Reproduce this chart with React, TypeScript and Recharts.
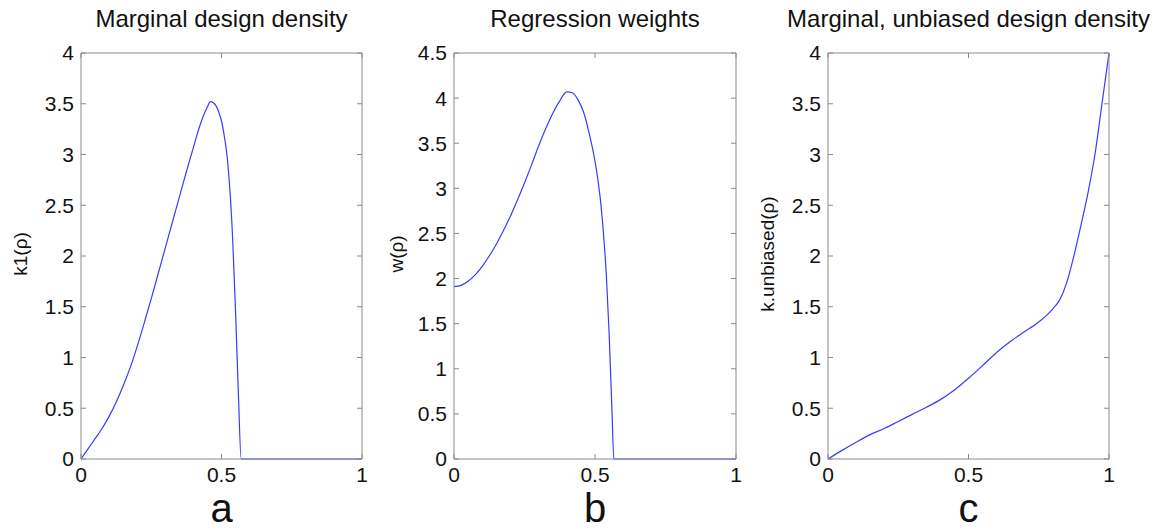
import { LineChart, Line, XAxis, YAxis } from "recharts";

// panel a: marginal design density
const rhoA = [0, 0.025, 0.05, 0.075, 0.1, 0.125, 0.15, 0.175, 0.2, 0.225, 0.25, 0.275, 0.3, 0.325, 0.35, 0.375, 0.4, 0.425, 0.45, 0.46, 0.475, 0.49, 0.5, 0.51, 0.52, 0.53, 0.54, 0.55, 0.56, 0.57, 1];
const k1Values = [0, 0.1, 0.2, 0.3, 0.42, 0.56, 0.72, 0.9, 1.11, 1.34, 1.58, 1.83, 2.08, 2.33, 2.58, 2.83, 3.07, 3.3, 3.47, 3.52, 3.5, 3.42, 3.33, 3.18, 2.98, 2.65, 2.15, 1.45, 0.65, 0, 0];

// panel b: regression weights
const rhoB = [0, 0.025, 0.05, 0.075, 0.1, 0.125, 0.15, 0.175, 0.2, 0.225, 0.25, 0.275, 0.3, 0.325, 0.35, 0.375, 0.4, 0.42, 0.44, 0.46, 0.48, 0.5, 0.51, 0.52, 0.53, 0.54, 0.55, 0.56, 0.567, 1];
const wValues = [1.91, 1.925, 1.97, 2.04, 2.135, 2.25, 2.38, 2.53, 2.69, 2.87, 3.06, 3.26, 3.47, 3.66, 3.83, 3.97, 4.07, 4.06, 3.98, 3.84, 3.6, 3.3, 3.1, 2.85, 2.5, 2.05, 1.4, 0.55, 0, 0];

// panel c: marginal, unbiased design density
const rhoC = [0, 0.05, 0.1, 0.15, 0.2, 0.25, 0.3, 0.35, 0.4, 0.45, 0.5, 0.55, 0.6, 0.65, 0.7, 0.75, 0.8, 0.825, 0.85, 0.875, 0.9, 0.925, 0.95, 0.975, 1];
const kUnbiasedValues = [0, 0.085, 0.165, 0.24, 0.3, 0.37, 0.44, 0.51, 0.585, 0.68, 0.795, 0.92, 1.05, 1.16, 1.255, 1.35, 1.48, 1.57, 1.74, 2.0, 2.3, 2.62, 3.0, 3.5, 4];

const xTicks = [0, 0.5, 1];
const yTicks4 = [0, 0.5, 1, 1.5, 2, 2.5, 3, 3.5, 4];
const yTicks45 = [0, 0.5, 1, 1.5, 2, 2.5, 3, 3.5, 4, 4.5];

const font = '"Liberation Sans", Arial, sans-serif';
const axisColor = "#8a8a8a";
const lineColor = "#3b3bff";
const tickLen = 5;
const plotH = 406;

const toRows = (xs: number[], ys: number[]) => xs.map((x, i) => ({ rho: x, v: ys[i] }));

// inward tick marks (matlab style): the top axis draws top + bottom marks,
// the right axis draws right + left marks
const makeTopTick = () => (p: any) => (
  <path
    d={`M${p.x} ${p.y}v${tickLen}M${p.x} ${p.y + plotH}v${-tickLen}`}
    stroke={axisColor}
    strokeWidth={1}
    fill="none"
  />
);
const makeRightTick = (plotW: number) => (p: any) => (
  <path
    d={`M${p.x} ${p.y}h${-tickLen}M${p.x - plotW} ${p.y}h${tickLen}`}
    stroke={axisColor}
    strokeWidth={1}
    fill="none"
  />
);

const labelStyle = { fill: "#111", fontSize: 21, fontFamily: font };

type PanelProps = {
  plotLeft: number;
  plotRight: number;
  xs: number[];
  ys: number[];
  yMax: number;
  yTicks: number[];
  title: string;
  yLabel: string;
  yLabelX: number;
  letter: string;
};

const Panel = ({ plotLeft, plotRight, xs, ys, yMax, yTicks, title, yLabel, yLabelX, letter }: PanelProps) => {
  const left = plotLeft - 81;
  const plotW = plotRight - plotLeft;
  const width = plotW + 81 + 18;
  const center = (plotLeft + plotRight) / 2;
  return (
    <>
      <div style={{ position: "absolute", left, top: 0 }}>
        <LineChart
          width={width}
          height={532}
          data={toRows(xs, ys)}
          margin={{ top: 52, right: 17, bottom: 43, left: 21 }}
        >
          <XAxis
            dataKey="rho"
            type="number"
            domain={[0, 1]}
            ticks={xTicks}
            stroke={axisColor}
            tickLine={false}
            tickSize={0}
            tickMargin={8}
            height={30}
            tick={labelStyle}
          />
          <XAxis
            xAxisId="top"
            dataKey="rho"
            orientation="top"
            type="number"
            domain={[0, 1]}
            ticks={xTicks}
            stroke={axisColor}
            tickLine={false}
            tickSize={0}
            tickMargin={0}
            tick={makeTopTick()}
            height={1}
          />
          <YAxis
            type="number"
            domain={[0, yMax]}
            ticks={yTicks}
            stroke={axisColor}
            tickLine={false}
            tickSize={0}
            tickMargin={7}
            width={60}
            tick={labelStyle}
          />
          <YAxis
            yAxisId="right"
            orientation="right"
            type="number"
            domain={[0, yMax]}
            ticks={yTicks}
            stroke={axisColor}
            tickLine={false}
            tickSize={0}
            tickMargin={0}
            tick={makeRightTick(plotW)}
            width={1}
          />
          <Line
            xAxisId="top"
            yAxisId="right"
            type="monotone"
            dataKey="v"
            stroke="none"
            dot={false}
            isAnimationActive={false}
          />
          <Line
            type="monotone"
            dataKey="v"
            stroke={lineColor}
            strokeWidth={1.2}
            dot={false}
            isAnimationActive={false}
          />
        </LineChart>
      </div>
      <div
        style={{
          position: "absolute",
          left: center - 200,
          width: 400,
          top: 5,
          textAlign: "center",
          fontFamily: font,
          fontSize: 24,
          lineHeight: "28px",
          color: "#111",
          whiteSpace: "nowrap",
        }}
      >
        {title}
      </div>
      <div
        style={{
          position: "absolute",
          left: yLabelX - 100,
          width: 200,
          top: 243,
          textAlign: "center",
          fontFamily: font,
          fontSize: 19,
          lineHeight: "22px",
          color: "#111",
          transform: "rotate(-90deg)",
          whiteSpace: "nowrap",
        }}
      >
        {yLabel}
      </div>
      <div
        style={{
          position: "absolute",
          left: center - 50,
          width: 100,
          top: 490,
          textAlign: "center",
          fontFamily: font,
          fontSize: 40,
          lineHeight: "36px",
          color: "#111",
        }}
      >
        {letter}
      </div>
    </>
  );
};

export default function App() {
  return (
    <div style={{ position: "absolute", left: 0, top: 0, width: 1154, height: 532, background: "#fff" }}>
      <Panel plotLeft={81} plotRight={362} xs={rhoA} ys={k1Values} yMax={4} yTicks={yTicks4}
        title="Marginal design density" yLabel="k1(ρ)" yLabelX={21} letter="a" />
      <Panel plotLeft={454} plotRight={736} xs={rhoB} ys={wValues} yMax={4.5} yTicks={yTicks45}
        title="Regression weights" yLabel="w(ρ)" yLabelX={397} letter="b" />
      <Panel plotLeft={828} plotRight={1109} xs={rhoC} ys={kUnbiasedValues} yMax={4} yTicks={yTicks4}
        title="Marginal, unbiased design density" yLabel="k.unbiased(ρ)" yLabelX={768} letter="c" />
    </div>
  );
}
